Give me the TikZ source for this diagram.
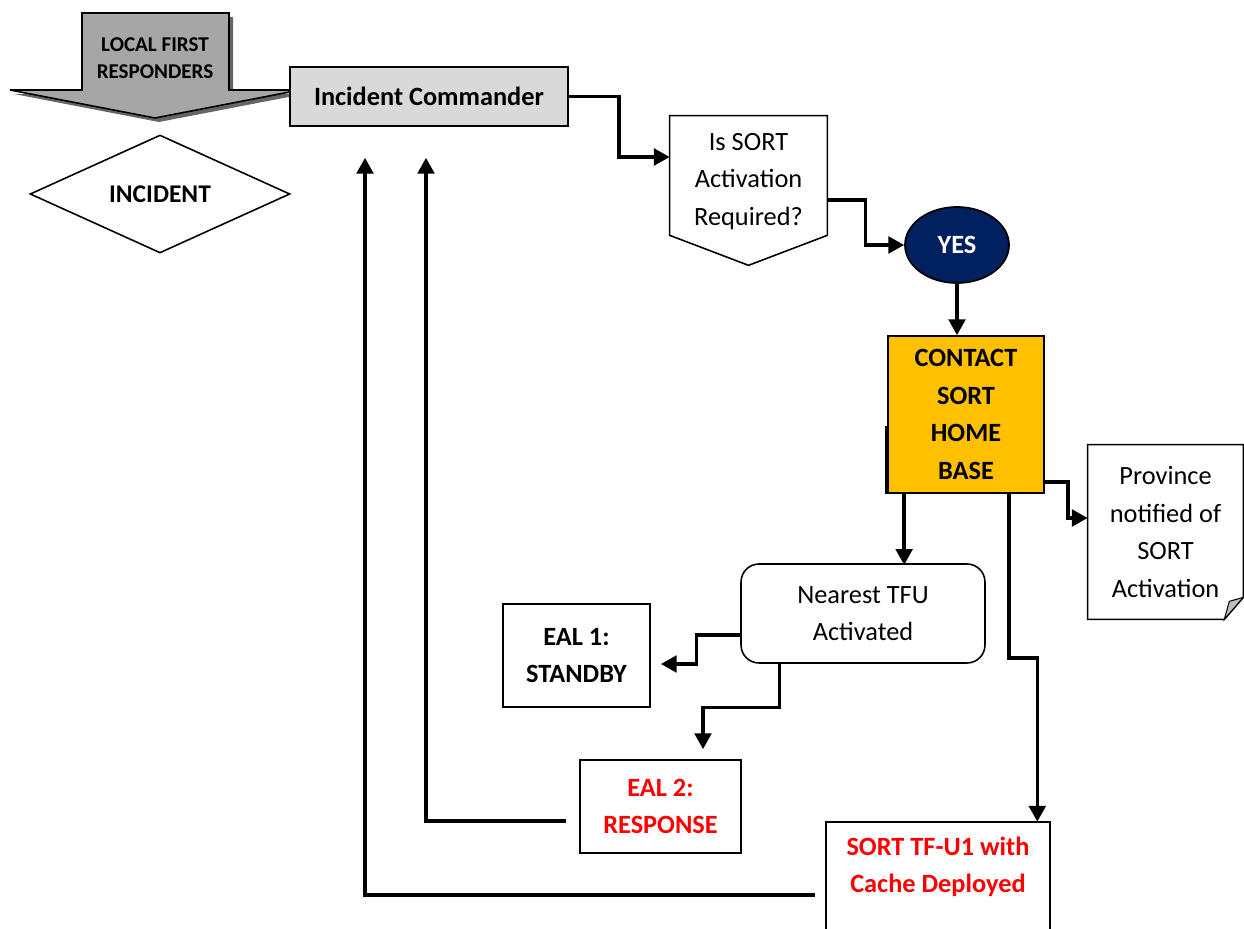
\documentclass[tikz,border=0pt]{standalone}
\usepackage{fontspec}
\setmainfont{Carlito}
\usetikzlibrary{arrows.meta,shapes.geometric}
\definecolor{navy}{HTML}{002060}
\definecolor{amber}{HTML}{FFC000}

\begin{document}
\begin{tikzpicture}[x=0.02cm,y=-0.02cm,
                    every node/.style={font=\fontsize{15}{21.3}\selectfont,align=center,inner sep=0pt},
                    kasse/.style={draw=black,line width=1pt},
                    fett/.style={font=\fontsize{15}{21.3}\selectfont\bfseries},
                    rot/.style={text=red},
                    link/.style={line width=1.9pt,-{Triangle[length=9pt,width=9.5pt]}}]
  \useasboundingbox (0,0) rectangle (1244,929);
  % block arrow with its shadow
  \fill[black!60,shift={(4,4)}] (82,13) -- (229,13) -- (229,90) -- (300,90)
    -- (155,118) -- (10,90) -- (82,90) -- cycle;
  \filldraw[fill=black!35,draw=black,line width=0.9pt] (82,13) -- (229,13) -- (229,90)
    -- (300,90) -- (155,118) -- (10,90) -- (82,90) -- cycle;
  \node[font=\fontsize{12}{15}\selectfont\bfseries] (lfr) at (155,58) {LOCAL FIRST\\RESPONDERS};
  \node[diamond,aspect=2.2,draw,line width=0.9pt,minimum width=5.2cm,minimum height=2.36cm,
        font=\fontsize{14.5}{18}\selectfont\bfseries] (incident) at (160,194) {INCIDENT};
  \node[kasse,fill=black!15,fett,minimum width=5.56cm,minimum height=1.18cm] (cmdr) at (429,96.5)
    {Incident Commander};
  \node[minimum width=3.14cm,minimum height=2.38cm] (query) at (748.5,181.5)
    {Is SORT\\Activation\\Required?};
  \draw[line width=0.9pt] ([yshift=0.12cm]query.north west) -- ([yshift=0.12cm]query.north east)
    -- ([yshift=0.12cm]query.south east) -- ([yshift=-0.48cm]query.south)
    -- ([yshift=0.12cm]query.south west) -- cycle;
  \node[ellipse,fill=navy,draw=black,line width=1pt,minimum width=2.08cm,minimum height=1.52cm,
        fett,text=white] (yes) at (957,245) {YES};
  \node[kasse,fill=amber,fett,minimum width=3.12cm,minimum height=3.14cm] (contact) at (966,414.5)
    {CONTACT\\SORT\\HOME\\BASE};
  \draw[line width=1.9pt] ([yshift=1.36cm]contact.south west) -- (contact.south west);
  \node[minimum width=3.1cm,minimum height=3.48cm] (prov) at (1165.5,532)
    {Province\\notified of\\SORT\\Activation};
  \draw[line width=0.9pt] (prov.north west) -- (prov.north east) -- ([yshift=0.44cm]prov.south east)
    -- ([xshift=-0.38cm]prov.south east) -- (prov.south west) -- cycle;
  \filldraw[fill=black!25,line width=0.6pt] ([yshift=0.44cm]prov.south east)
    -- ([shift={(-0.28cm,0.36cm)}]prov.south east) -- ([xshift=-0.38cm]prov.south east) -- cycle;
  \node[draw,line width=0.9pt,rounded corners=0.36cm,minimum width=4.88cm,minimum height=1.98cm]
    (tfu) at (863,613.5) {Nearest TFU\\Activated};
  \node[kasse,fett,minimum width=2.94cm,minimum height=2.06cm] (standby) at (576.5,655.5)
    {EAL 1:\\STANDBY};
  \node[kasse,fett,rot,minimum width=3.22cm,minimum height=1.86cm] (response) at (660.5,806.5)
    {EAL 2:\\RESPONSE};
  \node[fett,rot,minimum width=4.48cm,minimum height=1.8cm] (cache) at (938,867)
    {SORT TF-U1 with\\Cache Deployed};
  \draw[line width=1pt] ([yshift=-0.4cm]cache.south west) -- (cache.north west)
    -- (cache.north east) -- ([yshift=-0.4cm]cache.south east);
  % connectors
  \draw[link] (cmdr.east) -- ++(50,0) |- ([yshift=0.49cm]query.west);
  \draw[link] ([yshift=-0.37cm]query.east) -- ++(38,0) |- (yes.west);
  \draw[link] (yes.south) -- (yes.south |- contact.north);
  \draw[link] ([xshift=0.34cm]contact.south west) -- ++(0,71);
  \draw[link] ([yshift=0.24cm]contact.south east) -- ++(23,0) |- ([yshift=0.28cm]prov.west);
  \draw[link] ([xshift=-0.72cm]contact.south east) -- ++(0,164) -| ([xshift=-0.26cm]cache.north east);
  \draw[link,shorten >=0.2cm] ([yshift=-0.43cm]tfu.west) -- ++(-44,0) |- ([yshift=-0.17cm]standby.east);
  \draw[link,shorten >=0.2cm] ([xshift=0.78cm]tfu.south west) -- ++(0,44) -| ([xshift=0.85cm]response.north);
  \draw[link,shorten <=0.26cm,shorten >=0.62cm] ([yshift=-0.29cm]response.west)
    -| ([xshift=-0.06cm]cmdr.south);
  \draw[link,shorten <=0.22cm,shorten >=0.62cm] ([yshift=-0.56cm]cache.west)
    -| ([xshift=-1.28cm]cmdr.south);
\end{tikzpicture}
\end{document}
